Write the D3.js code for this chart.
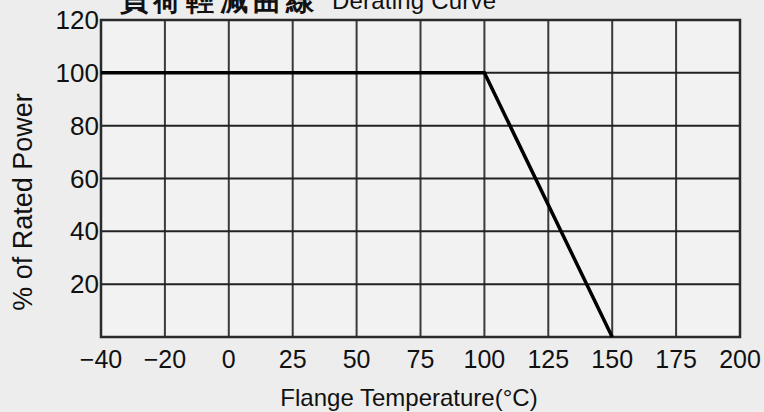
<!DOCTYPE html>
<html><head><meta charset="utf-8">
<script src="https://cdn.jsdelivr.net/npm/d3@7"></script>
<style>
html,body{margin:0;padding:0;background:#ededed;}
svg{display:block;}
text{font-family:"Liberation Sans",Arial,sans-serif;fill:#111;}
</style></head>
<body>
<script>
const xLabels = ["\u221240","\u221220","0","25","50","75","100","125","150","175","200"];
const yTicks = [0,20,40,60,80,100,120];
const yTickLabels = ["","20","40","60","80","100","120"];
const curveTemps = ["\u221240","100","150"];
const curvePower = [100,100,0];
const titleCJK = "負荷輕減曲線";
const titleEN = "Derating Curve";
const xTitle = "Flange Temperature(\u00B0C)";
const yTitle = "% of Rated Power";

const W = 764, H = 412;
const svg = d3.select("body").append("svg").attr("width",W).attr("height",H);
svg.append("rect").attr("width",W).attr("height",H).attr("fill","#ededed");

const x = d3.scalePoint().domain(xLabels).range([101,740]);
const y = d3.scaleLinear().domain([0,120]).range([337,20]);

// plot area background
svg.append("rect").attr("x",101).attr("y",20).attr("width",639).attr("height",317).attr("fill","#f2f2f2");

// vertical grid
svg.append("g").selectAll("line").data(xLabels).join("line")
  .attr("x1",d=>x(d)).attr("x2",d=>x(d)).attr("y1",y(120)).attr("y2",y(0))
  .attr("stroke","#3a3a3a").attr("stroke-width",2);
// horizontal grid
svg.append("g").selectAll("line").data(yTicks).join("line")
  .attr("x1",x(xLabels[0])).attr("x2",x(xLabels[xLabels.length-1]))
  .attr("y1",d=>y(d)).attr("y2",d=>y(d))
  .attr("stroke","#222").attr("stroke-width",2);
// frame
svg.append("rect").attr("x",x(xLabels[0])).attr("y",y(120))
  .attr("width",x(xLabels[xLabels.length-1])-x(xLabels[0])).attr("height",y(0)-y(120))
  .attr("fill","none").attr("stroke","#2a2a2a").attr("stroke-width",2.5);

// y tick labels
svg.append("g").selectAll("text").data(yTicks).join("text")
  .attr("x",99).attr("y",d=>y(d)+9)
  .attr("text-anchor","end").attr("font-size",26)
  .text((d,i)=>yTickLabels[i]);
// x tick labels
svg.append("g").selectAll("text").data(xLabels).join("text")
  .attr("x",d=>x(d)).attr("y",368)
  .attr("text-anchor","middle").attr("font-size",25)
  .text(d=>d);

// curve
const pts = curveTemps.map((t,i)=>[x(t), y(curvePower[i])]);
svg.append("path").attr("d",d3.line()(pts))
  .attr("fill","none").attr("stroke","#000").attr("stroke-width",3.5).attr("stroke-linejoin","miter");

// axis titles
svg.append("text").attr("x",409).attr("y",406).attr("text-anchor","middle")
  .attr("font-size",24).text(xTitle);
svg.append("text").attr("transform","translate(32,202) rotate(-90)")
  .attr("text-anchor","middle").attr("font-size",27).text(yTitle);

// title (partly above the top edge, as in the scanned reference)
svg.append("text").attr("x",120).attr("y",10).attr("font-size",28)
  .attr("font-family","Noto Sans CJK TC").attr("font-weight","bold")
  .attr("textLength",194).attr("lengthAdjust","spacing").text(titleCJK);
svg.append("text").attr("x",332).attr("y",9).attr("font-size",24)
  .attr("textLength",164).text(titleEN);
</script>
</body></html>
